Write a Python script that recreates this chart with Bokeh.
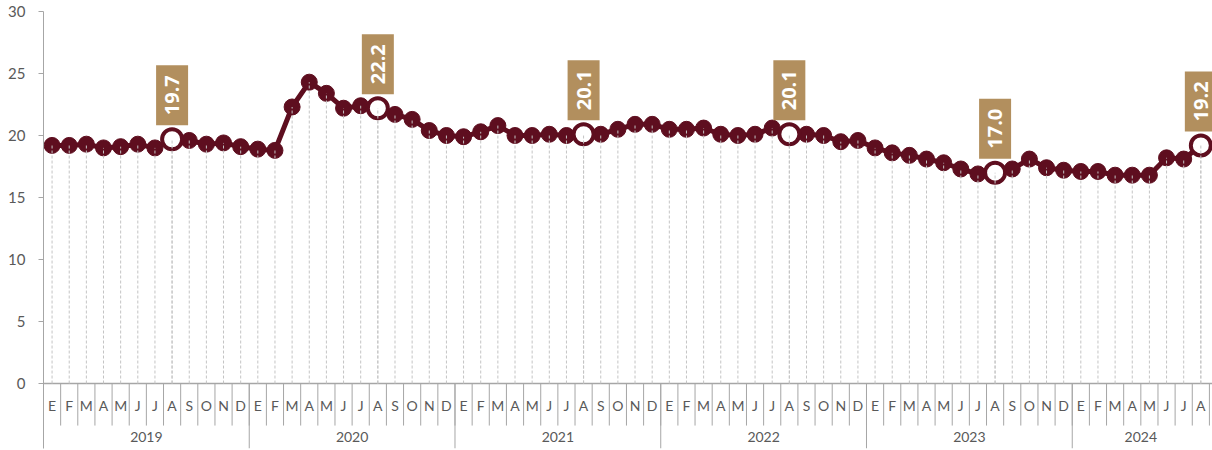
import numpy as np
from bokeh.plotting import figure
from bokeh.models import Range1d, FixedTicker, ColumnDataSource
from bokeh.core.properties import value
from bokeh.embed import file_html
from bokeh.resources import INLINE

years = ["2019", "2020", "2021", "2022", "2023", "2024"]
month_labels = ["E", "F", "M", "A", "M", "J", "J", "A", "S", "O", "N", "D"]

v2019 = [19.2, 19.2, 19.3, 19.0, 19.1, 19.3, 19.0, 19.7, 19.6, 19.3, 19.4, 19.1]
v2020 = [18.9, 18.8, 22.3, 24.3, 23.4, 22.2, 22.4, 22.2, 21.7, 21.3, 20.4, 20.0]
v2021 = [19.9, 20.3, 20.8, 20.0, 20.0, 20.1, 20.0, 20.1, 20.1, 20.5, 20.9, 20.9]
v2022 = [20.5, 20.5, 20.6, 20.1, 20.0, 20.1, 20.6, 20.1, 20.1, 20.0, 19.5, 19.6]
v2023 = [19.0, 18.6, 18.4, 18.1, 17.8, 17.3, 16.9, 17.0, 17.3, 18.1, 17.4, 17.2]
v2024 = [17.1, 17.1, 16.8, 16.8, 16.8, 18.2, 18.1, 19.2]

highlight_pos = 7  # August of each year

series = [v2019, v2020, v2021, v2022, v2023, v2024]
vals = [v for s in series for v in s]
n = len(vals)
xs = list(range(n))
mlab = [month_labels[i % 12] for i in range(n)]

DARK = "#5E0E1F"
TAN = "#B28F5E"
GRAY_TXT = "#595959"
AXIS = "#a6a6a6"

Y_BOTTOM = -5.24
FRAME_H = 437
p = figure(width=1212, height=450, output_backend="svg", toolbar_location=None,
           x_range=Range1d(-0.5, n - 0.32), y_range=Range1d(Y_BOTTOM, 30),
           x_axis_type=None, min_border_left=43, min_border_right=0,
           min_border_top=11, min_border_bottom=2)
p.outline_line_color = None
p.grid.visible = False
p.background_fill_color = "white"
p.border_fill_color = "white"

yax = p.yaxis[0]
yax.ticker = FixedTicker(ticks=[0, 5, 10, 15, 20, 25, 30])
yax.axis_line_color = AXIS
yax.major_tick_line_color = AXIS
yax.major_tick_out = 5
yax.major_tick_in = 0
yax.minor_tick_line_color = None
yax.major_label_text_font = "Lato"
yax.major_label_text_font_size = "15px"
yax.major_label_text_color = GRAY_TXT
yax.major_label_standoff = 13

# x baseline
p.segment(x0=[-0.5], y0=[0], x1=[n - 0.32], y1=[0], line_color=AXIS, line_width=1.5)

# category axis drawn manually
src = ColumnDataSource(dict(x=xs, y=vals, m=mlab))
p.text(x="x", y=-1.77, text="m", source=src, text_font=value("Lato"),
       text_font_size="14px", text_color=GRAY_TXT, text_align="center",
       text_baseline="middle")
sep_x = [i + 0.5 for i in range(n)]
p.segment(x0=sep_x, y0=[0] * n, x1=sep_x, y1=[-3.39] * n, line_color=AXIS, line_width=1)
ystarts = [12 * k for k in range(len(years))]
yends = [min(12 * k + 12, n) for k in range(len(years))]
ycent = [(a + b - 1) / 2 for a, b in zip(ystarts, yends)]
p.text(x=ycent, y=[-4.35] * len(years), text=years, text_font=value("Lato"),
       text_font_size="14px", text_color=GRAY_TXT, text_align="center",
       text_baseline="middle")
ysep = [12 * k - 0.5 for k in range(1, len(years))]
p.segment(x0=ysep, y0=[0] * len(ysep), x1=ysep, y1=[Y_BOTTOM] * len(ysep),
          line_color=AXIS, line_width=1)

# line and points
p.line("x", "y", source=src, line_color=DARK, line_width=5)
p.scatter("x", "y", source=src, size=16, fill_color=DARK, line_color=DARK)

# drop lines
p.segment(x0="x", y0=0, x1="x", y1="y", source=src, line_color="#c4c4c4",
          line_width=1, line_dash="3 2")

# highlighted points
hx = [i for i in xs if i % 12 == highlight_pos]
hy = [vals[i] for i in hx]
hl = [f"{v:.1f}" for v in hy]
p.scatter(hx, hy, size=20, fill_color="white", line_color=DARK, line_width=4)
p.segment(x0=hx, y0=[0] * len(hx), x1=hx, y1=hy, line_color="#c4c4c4",
          line_width=1, line_dash="3 2")

px_per_unit = FRAME_H / (30 - Y_BOTTOM)
box_off = 44 / px_per_unit
box_h = 60 / px_per_unit
by = [v + box_off for v in hy]
p.rect(x=hx, y=by, width=32, height=box_h, width_units="screen",
       fill_color=TAN, line_color=None)
p.text(x=hx, y=by, text=hl, angle=np.pi / 2, text_font=value("Open Sans"),
       text_font_style="bold", text_font_size="20px", text_color="white",
       text_align="center", text_baseline="middle")

open("out.html", "w").write(file_html(p, INLINE))
